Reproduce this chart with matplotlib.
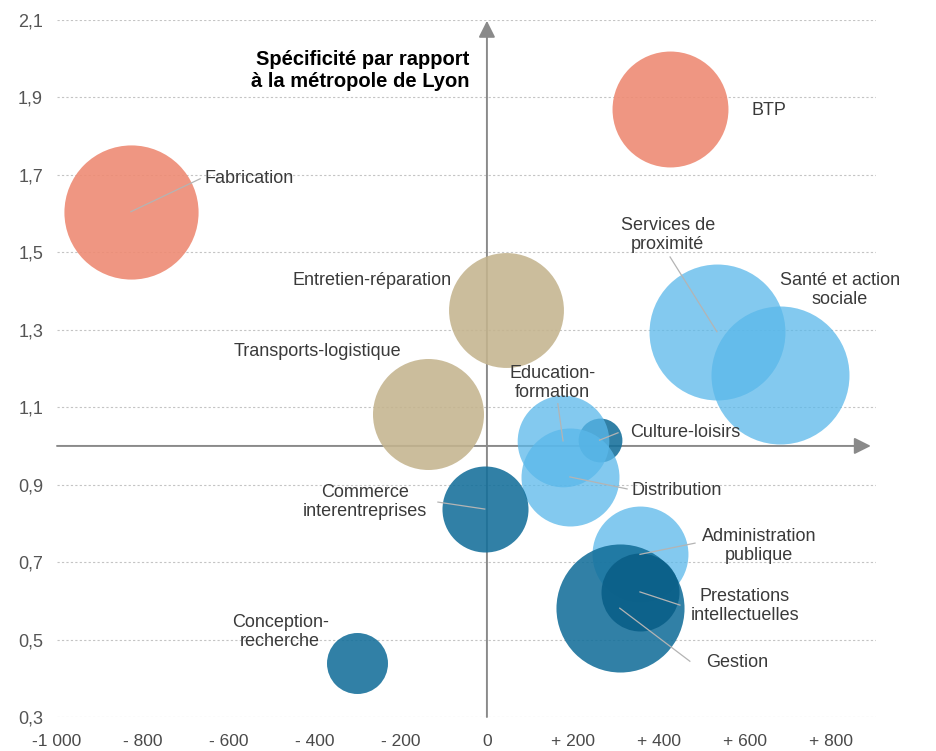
import numpy as np
from matplotlib import pyplot as plt

# secteurs, écart d'emplois (x), indice de spécificité (y), poids (aire des bulles)
secteurs = ['Fabrication', 'BTP', 'Entretien-réparation', 'Transports-logistique',
            'Services de\nproximité', 'Santé et action\nsociale', 'Culture-loisirs',
            'Education-\nformation', 'Distribution', 'Commerce\ninterentreprises',
            'Administration\npublique', 'Gestion', 'Prestations\nintellectuelles',
            'Conception-\nrecherche']
ecart = [-828, 426, 44, -137, 535, 681, 262, 177, 193, -5, 356, 309, 356, -302]
specificite = [1.605, 1.871, 1.351, 1.083, 1.295, 1.183, 1.015, 1.013, 0.92, 0.837,
               0.72, 0.581, 0.623, 0.439]
poids = [4500, 3360, 3300, 3080, 4620, 4760, 480, 2100, 2400, 1850, 2300, 4100, 1520, 930]
groupe = ['prod', 'prod', 'beige', 'beige', 'clair', 'clair', 'fonce', 'clair', 'clair',
          'fonce', 'clair', 'fonce', 'tres_fonce', 'fonce']

x_ticks = [-1000, -800, -600, -400, -200, 0, 200, 400, 600, 800]
x_labels = ['-1 000', '- 800', '- 600', '- 400', '- 200', '0', '+ 200', '+ 400', '+ 600', '+ 800']
y_ticks = [0.3, 0.5, 0.7, 0.9, 1.1, 1.3, 1.5, 1.7, 1.9, 2.1]
y_labels = ['0,3', '0,5', '0,7', '0,9', '1,1', '1,3', '1,5', '1,7', '1,9', '2,1']

couleurs = {'prod': ('#EE8B74', 0.9), 'beige': ('#C4B48E', 0.88),
            'clair': ('#5AB8EA', 0.75), 'fonce': ('#146F9A', 0.88),
            'tres_fonce': ('#0A5F88', 0.9)}

# position des étiquettes et extrémité des traits de rappel
lab_x = [-656, 616, -81, -200, 421, 821, 333, 153, 337, -284, 633, 509, 600, -481]
lab_y = [1.690, 1.866, 1.426, 1.243, 1.545, 1.403, 1.034, 1.163, 0.884, 0.855, 0.742,
         0.442, 0.587, 0.519]
lab_ha = ['left', 'left', 'right', 'right', 'center', 'center', 'left', 'center', 'left',
          'center', 'center', 'left', 'center', 'center']
lead_x = [-667, None, None, None, 426, None, 305, 165, 326, -114, 484, 472, 449, None]
lead_y = [1.69, None, None, None, 1.488, None, 1.034, 1.109, 0.889, 0.855, 0.749, 0.444,
          0.589, None]

plt.rcParams['font.family'] = ['Liberation Sans', 'DejaVu Sans']

fig = plt.figure(figsize=(9.37, 7.51), dpi=100)
ax = fig.add_axes([57 / 937, 34 / 751, 819 / 937, 697 / 751])
ax.set_xlim(-1000, 905)
ax.set_ylim(0.3, 2.1)

for y in y_ticks:
    ax.axhline(y, color='#c4c4c4', lw=0.8, linestyle=(0, (2, 2)), zorder=1)

# axes fléchés
arrow = dict(arrowstyle='-|>,head_length=0.5,head_width=0.25', mutation_scale=20,
             color='#8a8a8a', lw=1.4, shrinkA=0, shrinkB=0)
ax.annotate('', xy=(893, 1.0), xytext=(-1000, 1.0), arrowprops=arrow, zorder=2)
ax.annotate('', xy=(0, 2.098), xytext=(0, 0.3), arrowprops=arrow, zorder=2)

# traits de rappel
for i in range(len(secteurs)):
    if lead_x[i] is not None:
        ax.plot([ecart[i], lead_x[i]], [specificite[i], lead_y[i]], color='#b4b4b4',
                lw=0.9, zorder=6)

for i in range(len(secteurs)):
    c, a = couleurs[groupe[i]]
    ax.scatter(ecart[i], specificite[i], s=poids[i] * 2.0736, color=c, alpha=a,
               linewidths=0, zorder=3 + i * 0.1)

for i, nom in enumerate(secteurs):
    ax.text(lab_x[i], lab_y[i], nom, ha=lab_ha[i], va='center', fontsize=13,
            color='#3a3a3a', linespacing=1.15, zorder=7)

ax.text(-40, 1.97, 'Spécificité par rapport\nà la métropole de Lyon', ha='right',
        va='center', fontsize=14.5, fontweight='bold', color='black', linespacing=1.2)

ax.set_xticks(x_ticks)
ax.set_xticklabels(x_labels, fontsize=12.5, color='#4a4a4a',
                   family=['Liberation Sans Narrow', 'Liberation Sans'])
ax.set_yticks(y_ticks)
ax.set_yticklabels(y_labels, fontsize=13, color='#555555')
ax.tick_params(axis='both', length=0)
ax.tick_params(axis='x', pad=12)
ax.tick_params(axis='y', pad=10)
for s in ax.spines.values():
    s.set_visible(False)

plt.savefig('out.png', dpi=100)
